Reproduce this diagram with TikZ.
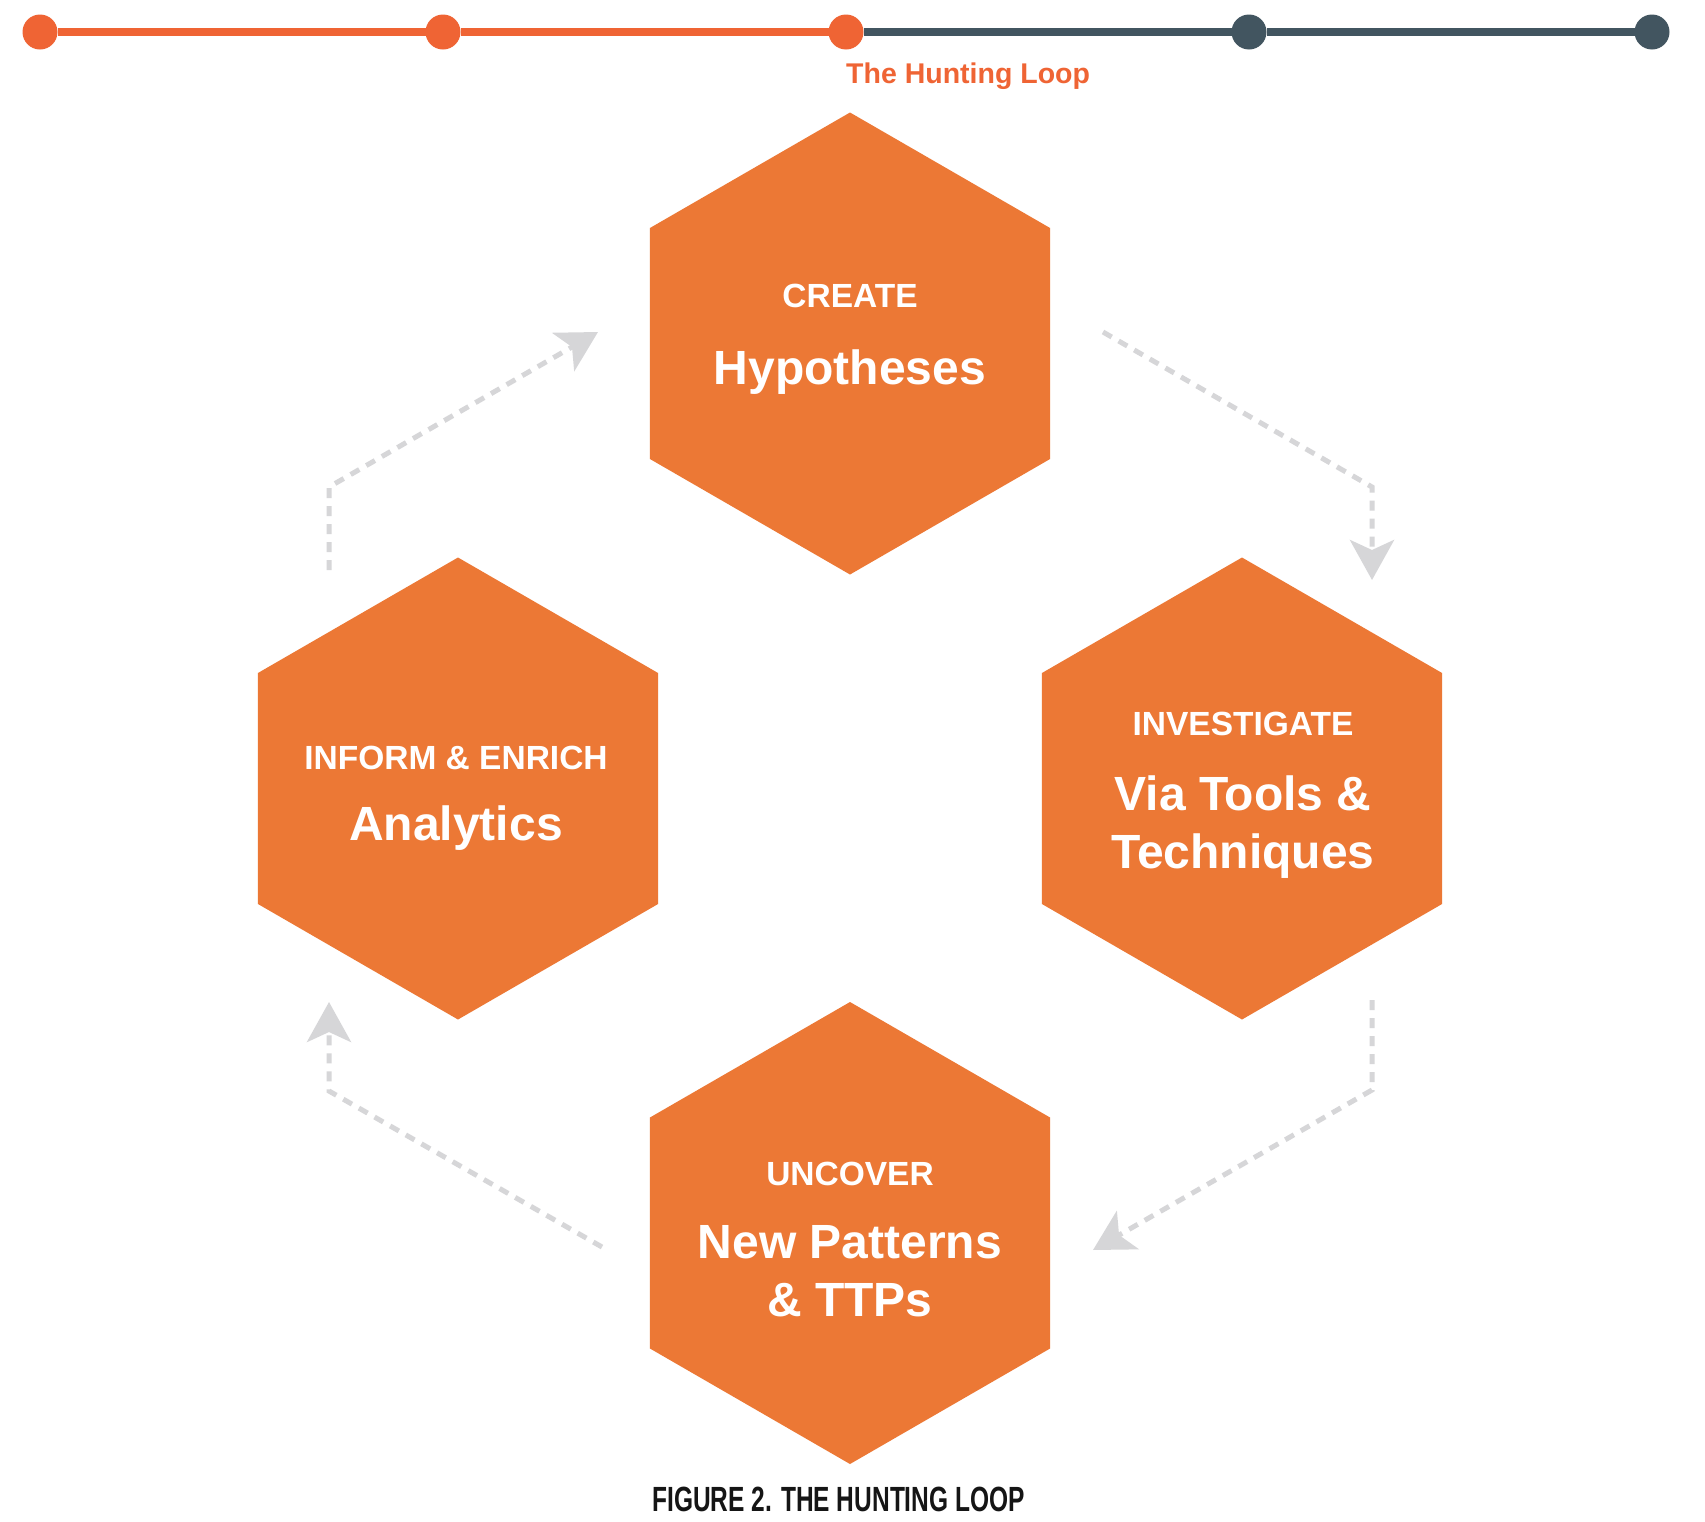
\documentclass[tikz,border=0pt]{standalone}
\usepackage{fontspec}
\setmainfont{Liberation Sans}
\usetikzlibrary{shapes.geometric,arrows.meta}

\definecolor{hexorange}{HTML}{EC7835}
\definecolor{trackorange}{HTML}{EF6434}
\definecolor{trackdark}{HTML}{425560}
\definecolor{loopgray}{HTML}{D6D6D8}
\definecolor{captionink}{HTML}{151515}

\begin{document}
\begin{tikzpicture}[x=1pt,y=-1pt,
  hexa/.style={regular polygon, regular polygon sides=6, shape border rotate=30,
    minimum size=462pt, inner sep=0pt, outer sep=0pt, fill=hexorange, draw=none},
  headtxt/.style={anchor=base, text=white, inner sep=0pt,
    font=\fontsize{33.5}{33.5}\selectfont\bfseries},
  maintxt/.style={anchor=base, text=white, inner sep=0pt,
    font=\fontsize{48}{48}\selectfont\bfseries},
  stopdot/.style={circle, minimum size=35pt, inner sep=0pt, outer sep=0pt, fill=#1},
  trackline/.style={line width=7.5pt, draw=#1},
  loopline/.style={draw=loopgray, line width=5pt, dash pattern=on 10pt off 8pt,
    -{Stealth[length=40pt,width=44pt,inset=10pt]}}
]
% canvas
\fill[white] (0,0) rectangle (1705,1521);
\useasboundingbox (0,0) rectangle (1705,1521);

% progress track
\node[stopdot=trackorange] (s1) at (40,32) {};
\node[stopdot=trackorange] (s2) at (443,32) {};
\node[stopdot=trackorange] (s3) at (846,32) {};
\node[stopdot=trackdark]   (s4) at (1249,32) {};
\node[stopdot=trackdark]   (s5) at (1652,32) {};
\draw[trackline=trackorange] (s1) -- (s2);
\draw[trackline=trackorange] (s2) -- (s3);
\draw[trackline=trackdark] (s3) -- (s4);
\draw[trackline=trackdark] (s4) -- (s5);
\node[anchor=base west, inner sep=0pt, text=trackorange,
  font=\fontsize{28.5}{28.5}\selectfont\bfseries] (looptitle) at (846,83.3) {The Hunting Loop};

% the four stages
\node[hexa] (hcreate) at (850,343.5) {};
\node[hexa] (hinvest) at (1242,788.5) {};
\node[hexa] (huncover) at (850,1233) {};
\node[hexa] (hinform) at (458,788.5) {};

\node[headtxt] (createhead) at (850,307.7) {CREATE};
\node[maintxt] (createmain) at (850,384) {Hypotheses};

\node[headtxt] (investhead) at (1243,735) {INVESTIGATE};
\node[maintxt] (investmainA) at (1243,810.7) {Via Tools \&};
\node[maintxt] (investmainB) at (1243,868.3) {Techniques};

\node[headtxt] (uncoverhead) at (850,1185.7) {UNCOVER};
\node[maintxt] (uncovermainA) at (850,1258.3) {New Patterns};
\node[maintxt] (uncovermainB) at (850,1316.7) {\& TTPs};

\node[headtxt] (informhead) at (456,769.3) {INFORM \& ENRICH};
\node[maintxt] (informmain) at (456,840.7) {Analytics};

% loop connectors
\coordinate (a1s) at (1103,332);
\coordinate (a1c) at (1372,487);
\coordinate (a1e) at (1372,580);
\draw[loopline] (a1s) -- (a1c) -- (a1e);

\coordinate (a2s) at (1372,1000);
\coordinate (a2c) at (1372,1090);
\coordinate (a2e) at (1093,1250);
\draw[loopline] (a2s) -- (a2c) -- (a2e);

\coordinate (a3s) at (602,1247);
\coordinate (a3c) at (329,1091);
\coordinate (a3e) at (329,1002);
\draw[loopline] (a3s) -- (a3c) -- (a3e);

\coordinate (a4s) at (329,570);
\coordinate (a4c) at (329,487);
\coordinate (a4e) at (598,332);
\draw[loopline] (a4s) -- (a4c) -- (a4e);

% caption
\node[anchor=base, inner sep=0pt, text=captionink] (caption) at (838.5,1511)
  {\scalebox{0.70}[1]{\fontsize{35}{35}\selectfont\bfseries FIGURE 2. THE HUNTING LOOP}};
\end{tikzpicture}
\end{document}
